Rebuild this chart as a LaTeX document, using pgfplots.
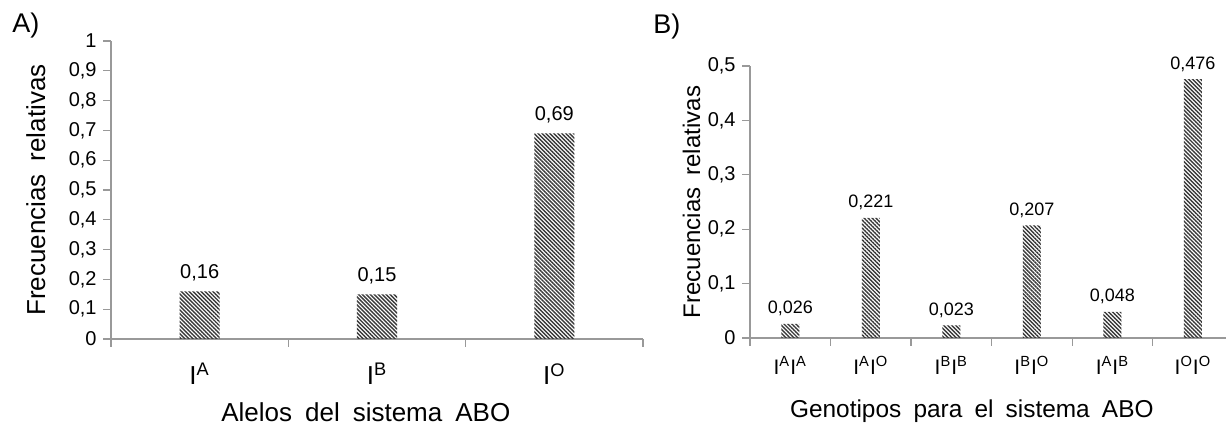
\documentclass[border=0pt]{standalone}
\usepackage{pgfplots}
\pgfplotsset{compat=1.18}
\usepackage{fontspec}
\setmainfont{Liberation Sans}
\usetikzlibrary{patterns.meta}

\newcommand{\wsp}{\hspace{0.5em}}

\pgfplotsset{
  abo/.style={
    scale only axis,
    axis lines*=left,
    axis line style={black!40, line width=0.65pt},
    tick style={black!40, line width=0.65pt},
    tick align=outside,
    major tick length=4pt,
    ymin=0,
    ybar, bar shift=0pt,
    clip=false,
    xticklabels={},
    /pgf/number format/assume math mode=true,
    /pgf/number format/use comma,
    yticklabel style={font=\fontsize{10}{12}\selectfont, inner sep=0pt, anchor=east, xshift=-3pt},
    nodes near coords,
    nodes near coords style={/pgf/number format/fixed, /pgf/number format/precision=3, anchor=base, inner sep=0pt, text=black},
    extra x tick style={major tick length=0pt, tick style={draw=none}},
  },
  hatch/.style={draw=none, pattern={Lines[angle=-45,distance=1.4pt,line width=0.7pt]}, pattern color=black!78},
}

\begin{document}
\begin{tikzpicture}
\path[use as bounding box] (0,0) rectangle (613.5pt,213.5pt);

\node[anchor=base west, inner sep=0pt, font=\fontsize{13.5}{15}\selectfont] at (6pt,197pt) {A)};
\node[anchor=base west, inner sep=0pt, font=\fontsize{13.5}{15}\selectfont] at (326.5pt,196.5pt) {B)};

% A) alelos
\begin{axis}[abo,
  at={(55.5pt,44pt)}, anchor=south west,
  width=266pt, height=149pt,
  xmin=-0.5, xmax=2.5, ymax=1,
  xtick={-0.5,0.5,1.5,2.5},
  ytick={0,0.1,0.2,0.3,0.4,0.5,0.6,0.7,0.8,0.9,1},
  bar width=20pt,
  extra x ticks={0,1,2},
  extra x tick labels={I\textsuperscript{A}, I\textsuperscript{B}, I\textsuperscript{O}},
  extra x tick style={xticklabel style={font=\fontsize{13}{15}\selectfont, inner sep=0pt, anchor=north, yshift=-12pt}},
  nodes near coords style={font=\fontsize{10}{12}\selectfont, yshift=6.5pt},
  xlabel={Alelos\wsp del\wsp sistema\wsp ABO},
  xlabel style={font=\fontsize{13}{15}\selectfont, at={(axis description cs:0.479,0)}, anchor=base, yshift=-41.5pt},
  ylabel={Frecuencias\wsp relativas},
  ylabel style={font=\fontsize{13}{15}\selectfont, at={(axis description cs:-0.124,0.5)}, anchor=base},
  ]
  \addplot[hatch] coordinates {(0,0.16) (1,0.15) (2,0.69)};
\end{axis}

% B) genotipos
\begin{axis}[abo,
  at={(375pt,44.5pt)}, anchor=south west,
  width=238pt, height=136pt,
  xmin=-0.5, xmax=5.41, ymax=0.5,
  xtick={-0.5,0.5,1.5,2.5,3.5,4.5},
  ytick={0,0.1,0.2,0.3,0.4,0.5},
  bar width=9pt,
  extra x ticks={0,1,2,3,4,5},
  extra x tick labels={I\textsuperscript{A}I\textsuperscript{A}, I\textsuperscript{A}I\textsuperscript{O}, I\textsuperscript{B}I\textsuperscript{B}, I\textsuperscript{B}I\textsuperscript{O}, I\textsuperscript{A}I\textsuperscript{B}, I\textsuperscript{O}I\textsuperscript{O}},
  extra x tick style={xticklabel style={font=\fontsize{10.5}{12}\selectfont, inner sep=0pt, anchor=north, yshift=-9pt}},
  nodes near coords style={font=\fontsize{9}{11}\selectfont, yshift=5pt},
  xlabel={Genotipos\wsp para\wsp el\wsp sistema\wsp ABO},
  xlabel style={font=\fontsize{12.2}{14}\selectfont, at={(axis description cs:0.466,0)}, anchor=base, yshift=-40pt},
  ylabel={Frecuencias\wsp relativas},
  ylabel style={font=\fontsize{12}{14}\selectfont, at={(axis description cs:-0.105,0.5)}, anchor=base},
  ]
  \addplot[hatch] coordinates {(0,0.026) (1,0.221) (2,0.023) (3,0.207) (4,0.048) (5,0.476)};
\end{axis}
\end{tikzpicture}
\end{document}
